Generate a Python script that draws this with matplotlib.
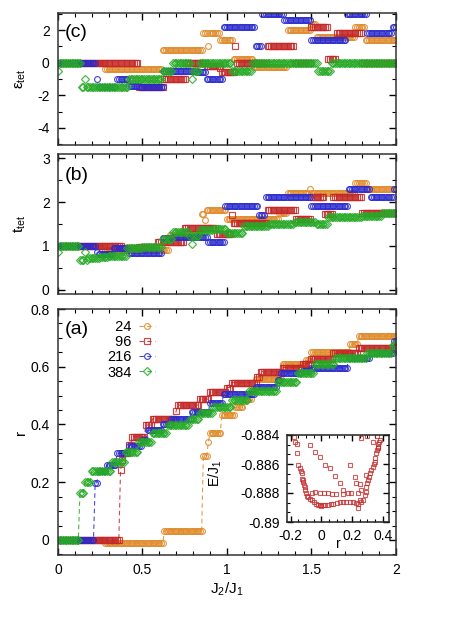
import numpy as np
import matplotlib.pyplot as plt
from matplotlib.ticker import MultipleLocator, AutoMinorLocator, FuncFormatter

plt.rcParams['font.family'] = ['Liberation Sans', 'DejaVu Sans']
plt.rcParams['mathtext.fontset'] = 'custom'
plt.rcParams['mathtext.rm'] = 'Liberation Sans'
plt.rcParams['mathtext.it'] = 'Liberation Sans:italic'
plt.rcParams['axes.unicode_minus'] = False

# J2/J1 grid of the scan
J2 = np.arange(0, 2.0001, 0.01)

sizes = ['24', '96', '216', '384']
colors = ['#e08a2a', '#c42828', '#2a2ad0', '#26aa26']
markers = ['o', 's', 'o', 'D']
msizes = [4.2, 4.0, 4.2, 3.6]

# plateaus: (start J2, value) -- value holds until the next start
# (a) r
r24_x = [0, 0.28, 0.63, 0.855, 0.885, 0.895, 0.97, 1.05, 1.1, 1.15, 1.17, 1.33, 1.47, 1.5, 1.73, 1.78]
r24_v = [0, -0.01, 0.032, 0.292, 0.34, 0.372, 0.434, 0.46, 0.487, 0.515, 0.558, 0.61, 0.622, 0.65, 0.679, 0.707]
r96_x = [0, 0.365, 0.375, 0.385, 0.415, 0.44, 0.52, 0.56, 0.695, 0.705, 0.84, 0.9, 1.0, 1.03, 1.18, 1.2, 1.33, 1.45, 1.5, 1.63, 1.78]
r96_v = [0, 0.242, 0.277, 0.302, 0.33, 0.358, 0.398, 0.42, 0.448, 0.467, 0.488, 0.512, 0.528, 0.545, 0.565, 0.583, 0.597, 0.61, 0.628, 0.647, 0.665]
r216_x = [0, 0.215, 0.235, 0.29, 0.345, 0.42, 0.5, 0.53, 0.62, 0.67, 0.79, 0.9, 0.98, 1.17, 1.3, 1.32, 1.45, 1.5, 1.72, 1.85, 1.99]
r216_v = [0, 0.198, 0.24, 0.26, 0.30, 0.327, 0.345, 0.38, 0.40, 0.42, 0.444, 0.475, 0.505, 0.53, 0.555, 0.578, 0.585, 0.597, 0.63, 0.647, 0.69]
r384_x = [0, 0.13, 0.155, 0.2, 0.315, 0.4, 0.48, 0.56, 0.65, 0.78, 0.84, 0.92, 1.03, 1.13, 1.3, 1.42, 1.52, 1.64, 1.83, 1.98]
r384_v = [0, 0.164, 0.20, 0.239, 0.271, 0.306, 0.34, 0.37, 0.398, 0.42, 0.44, 0.462, 0.485, 0.517, 0.548, 0.578, 0.609, 0.63, 0.647, 0.675]

# (b) t_tet
t24_x = [0, 0.28, 0.66, 0.845, 0.865, 0.875, 1.0, 1.31, 1.36, 1.485, 1.495, 1.76, 1.83]
t24_v = [1.0, 0.9, 1.25, 1.72, 1.6, 1.81, 1.62, 1.75, 2.21, 2.31, 2.21, 2.43, 2.31]
t96_x = [0, 0.38, 0.48, 0.59, 0.75, 0.94, 1.025, 1.035, 1.24, 1.41, 1.5, 1.58, 1.63, 1.8]
t96_v = [1.0, 0.95, 0.98, 1.08, 1.41, 1.28, 1.71, 1.52, 1.81, 1.61, 2.12, 1.72, 2.12, 1.75]
t216_x = [0, 0.225, 0.235, 0.33, 0.42, 0.62, 0.68, 0.89, 0.99, 1.19, 1.23, 1.5, 1.72, 1.85, 1.99]
t216_v = [1.0, 0.87, 0.82, 0.95, 0.84, 1.17, 1.2, 1.1, 1.91, 1.71, 2.12, 1.91, 2.31, 2.12, 2.31]
t384_x = [0, 0.005, 0.13, 0.155, 0.165, 0.18, 0.25, 0.3, 0.41, 0.5, 0.62, 0.68, 0.78, 0.785, 0.795,
          0.835, 0.92, 1.0, 1.1, 1.25, 1.4, 1.53, 1.6, 1.8, 1.92]
t384_v = [0.87, 1.0, 0.687, 0.85, 0.687, 0.73, 0.75, 0.77, 0.95, 0.98, 1.15, 1.31, 1.22, 1.05, 1.22,
          1.36, 1.39, 1.3, 1.465, 1.51, 1.54, 1.49, 1.66, 1.69, 1.755]

# (c) eps_tet
e24_x = [0, 0.28, 0.62, 0.86, 0.885, 0.895, 0.96, 1.04, 1.16, 1.36, 1.5, 1.53, 1.76, 1.82]
e24_v = [0, -0.4, 0.8, 1.8, 1.0, 1.8, 1.4, 0.2, -0.25, 2.0, 2.4, 1.57, 2.2, 1.4]
e96_x = [0, 0.48, 0.63, 0.76, 0.88, 0.955, 0.965, 1.045, 1.055, 1.24, 1.4, 1.5, 1.6, 1.65, 1.8]
e96_v = [0, -1.5, -1.0, 0.0, -0.2, -0.3, -0.6, 1.0, 0.0, 1.0, 0.0, 2.2, 0.2, 1.8, 0.0]
e216_x = [0, 0.225, 0.235, 0.35, 0.42, 0.49, 0.63, 0.82, 0.88, 0.98, 1.17, 1.21, 1.34, 1.5, 1.71, 1.83, 1.98]
e216_v = [0, -1.0, -1.5, -1.0, -1.4, -1.5, -0.53, -0.6, -1.0, 2.2, 1.0, 3.0, 2.6, 1.4, 3.0, 1.8, 2.2]
e384_x = [0, 0.005, 0.14, 0.155, 0.165, 0.42, 0.62, 0.68, 0.785, 0.795, 0.8375, 1.03, 1.15, 1.54, 1.62]
e384_v = [-0.5, 0, -1.5, -1.0, -1.5, -1.0, -0.5, 0.0, -1.0, -0.5, 0.0, -0.5, 0.0, -0.5, 0.0]

# inset: E/J1 vs r for N=96
ins_r = [-0.177, -0.172, -0.161, -0.161, -0.15, -0.14, -0.135, -0.129, -0.129, -0.122, -0.118, -0.114,
         -0.11, -0.107, -0.1, -0.095, -0.086, -0.075, -0.064, -0.045, -0.032, -0.021, -0.01, 0.0, 0.01,
         0.022, 0.04, 0.06, 0.076, 0.1, 0.12, 0.14, 0.163, 0.185, 0.206, 0.225, 0.238, 0.249, 0.238,
         0.26, 0.27,
         -0.064, -0.04, -0.01, 0.02, 0.044, 0.07, 0.098, 0.141, 0.17, 0.195, 0.238, 0.26,
         0.281, 0.29, 0.292, 0.3, 0.303, 0.31, 0.314, 0.322, 0.335, 0.34, 0.346, 0.35, 0.357, 0.362,
         0.368, 0.37, 0.378, 0.37, 0.38, 0.36, 0.337, 0.294, 0.26,
         -0.075, -0.042, -0.01, 0.022, 0.055, 0.09, 0.12, 0.141, 0.184, 0.217, 0.227, 0.25, 0.292]
ins_E = [-0.88412, -0.8845, -0.88464, -0.88526, -0.88607, -0.8863, -0.8865, -0.88665, -0.887, -0.8871,
         -0.88723, -0.88746, -0.8876, -0.8878, -0.88803, -0.8882, -0.88827, -0.8884, -0.8885, -0.8886,
         -0.88873, -0.88884, -0.88884, -0.8889, -0.88885, -0.88884, -0.8888, -0.88875, -0.88873, -0.8887,
         -0.8886, -0.88865, -0.8886, -0.88865, -0.8886, -0.8887, -0.88873, -0.8885, -0.889, -0.8886,
         -0.8885,
         -0.888, -0.8879, -0.888, -0.888, -0.888, -0.8881, -0.8881, -0.8881, -0.888, -0.888, -0.888, -0.8878,
         -0.88815, -0.8879, -0.88757, -0.8873, -0.8871, -0.8869, -0.88665, -0.8864, -0.8862, -0.886,
         -0.88584, -0.8856, -0.88526, -0.885, -0.8848, -0.8846, -0.88445, -0.88491, -0.88437, -0.88405,
         -0.8845, -0.8841, -0.88423,
         -0.88469, -0.88516, -0.88549, -0.88607, -0.8863, -0.8868, -0.88734, -0.8878, -0.88607, -0.88688,
         -0.88734, -0.8874, -0.88676]


def steps(starts, vals):
    idx = np.searchsorted(starts, J2 + 1e-9, side='right') - 1
    return np.array(vals)[idx]


r_data = [(r24_x, r24_v), (r96_x, r96_v), (r216_x, r216_v), (r384_x, r384_v)]
t_data = [(t24_x, t24_v), (t96_x, t96_v), (t216_x, t216_v), (t384_x, t384_v)]
e_data = [(e24_x, e24_v), (e96_x, e96_v), (e216_x, e216_v), (e384_x, e384_v)]

fig = plt.figure(figsize=(4.63, 6.18), dpi=100)
L, W = 58 / 463, 338 / 463
axc = fig.add_axes([L, 1 - 145 / 618, W, 132 / 618])
axb = fig.add_axes([L, 1 - 294 / 618, W, 140 / 618])
axa = fig.add_axes([L, 1 - 555 / 618, W, 246 / 618])

fmt = FuncFormatter(lambda v, p: '%g' % round(v, 6))

handles = []
for i in range(4):
    mk = dict(color=colors[i], marker=markers[i], ms=msizes[i], mfc='none', mew=0.85, alpha=0.85)
    h, = axa.plot(J2, steps(*r_data[i]), ls=(0, (4, 3)), lw=0.8, **mk)
    handles.append(h)
    axb.plot(J2, steps(*t_data[i]), ls='none', **mk)
    axc.plot(J2, steps(*e_data[i]), ls='none', **mk)

for ax in (axa, axb, axc):
    ax.set_xlim(0, 2)
    ax.xaxis.set_major_locator(MultipleLocator(0.5))
    ax.xaxis.set_minor_locator(MultipleLocator(0.1))
    ax.tick_params(which='both', direction='in', top=True, right=True, labelsize=10, pad=6)
    ax.tick_params(which='major', length=5, width=1)
    ax.tick_params(which='minor', length=3, width=0.8)
    for s in ax.spines.values():
        s.set_linewidth(1.1)
        s.set_color('#333333')
    ax.yaxis.set_major_formatter(fmt)
    ax.yaxis.set_label_coords(-0.09, 0.5)

axc.set_ylim(-5.05, 3.05)
axc.yaxis.set_major_locator(MultipleLocator(2))
axc.yaxis.set_minor_locator(MultipleLocator(1))
axc.tick_params(labelbottom=False)
axc.set_ylabel('ε$_\\mathregular{tet}$', fontsize=11)
axc.text(0.02, 0.85, '(c)', transform=axc.transAxes, fontsize=14, va='center')

axb.set_ylim(-0.1, 3.1)
axb.yaxis.set_major_locator(MultipleLocator(1))
axb.yaxis.set_minor_locator(MultipleLocator(0.5))
axb.tick_params(labelbottom=False)
axb.set_ylabel('t$_\\mathregular{tet}$', fontsize=11)
axb.text(0.02, 0.85, '(b)', transform=axb.transAxes, fontsize=14, va='center')

axa.set_ylim(-0.052, 0.8)
axa.yaxis.set_major_locator(MultipleLocator(0.2))
axa.yaxis.set_minor_locator(MultipleLocator(0.05))
axa.xaxis.set_major_formatter(fmt)
axa.set_ylabel('r', fontsize=11)
axa.set_xlabel('J$_2$/J$_1$', fontsize=11)
axa.xaxis.set_label_coords(0.5, -0.105)
axa.text(0.02, 0.915, '(a)', transform=axa.transAxes, fontsize=14, va='center')

labels = ['\u2007' * (3 - len(s)) + s for s in sizes]
leg = axa.legend(handles, labels, loc='upper left', bbox_to_anchor=(0.145, 0.955), frameon=False,
                 markerfirst=False, fontsize=10.5, handlelength=1.1, handletextpad=0.5,
                 labelspacing=0.08, borderaxespad=0, borderpad=0)

# inset
axi = fig.add_axes([287 / 463, 1 - 522 / 618, 102 / 463, 87 / 618])
axi.plot(ins_r, ins_E, ls='none', marker='s', mfc='none', mec='#c42828', ms=3.0, mew=0.8, alpha=0.75)
axi.set_xlim(-0.224, 0.44)
axi.set_ylim(-0.89, -0.884)
axi.xaxis.set_major_locator(MultipleLocator(0.2))
axi.xaxis.set_minor_locator(MultipleLocator(0.05))
axi.yaxis.set_major_locator(MultipleLocator(0.002))
axi.yaxis.set_minor_locator(AutoMinorLocator(3))
axi.xaxis.set_major_formatter(fmt)
axi.yaxis.set_major_formatter(fmt)
axi.tick_params(which='both', direction='in', top=True, right=True, labelsize=10, pad=5)
axi.tick_params(which='major', length=4, width=1)
axi.tick_params(which='minor', length=2.5, width=0.8)
for s in axi.spines.values():
    s.set_linewidth(1.1)
    s.set_color('#222222')
axi.set_ylabel('E/J$_1$', fontsize=10)
axi.yaxis.set_label_coords(-0.62, 0.56)
axi.set_xlabel('r', fontsize=10)
axi.xaxis.set_label_coords(0.5, -0.17)

fig.savefig('out.png', dpi=100)
